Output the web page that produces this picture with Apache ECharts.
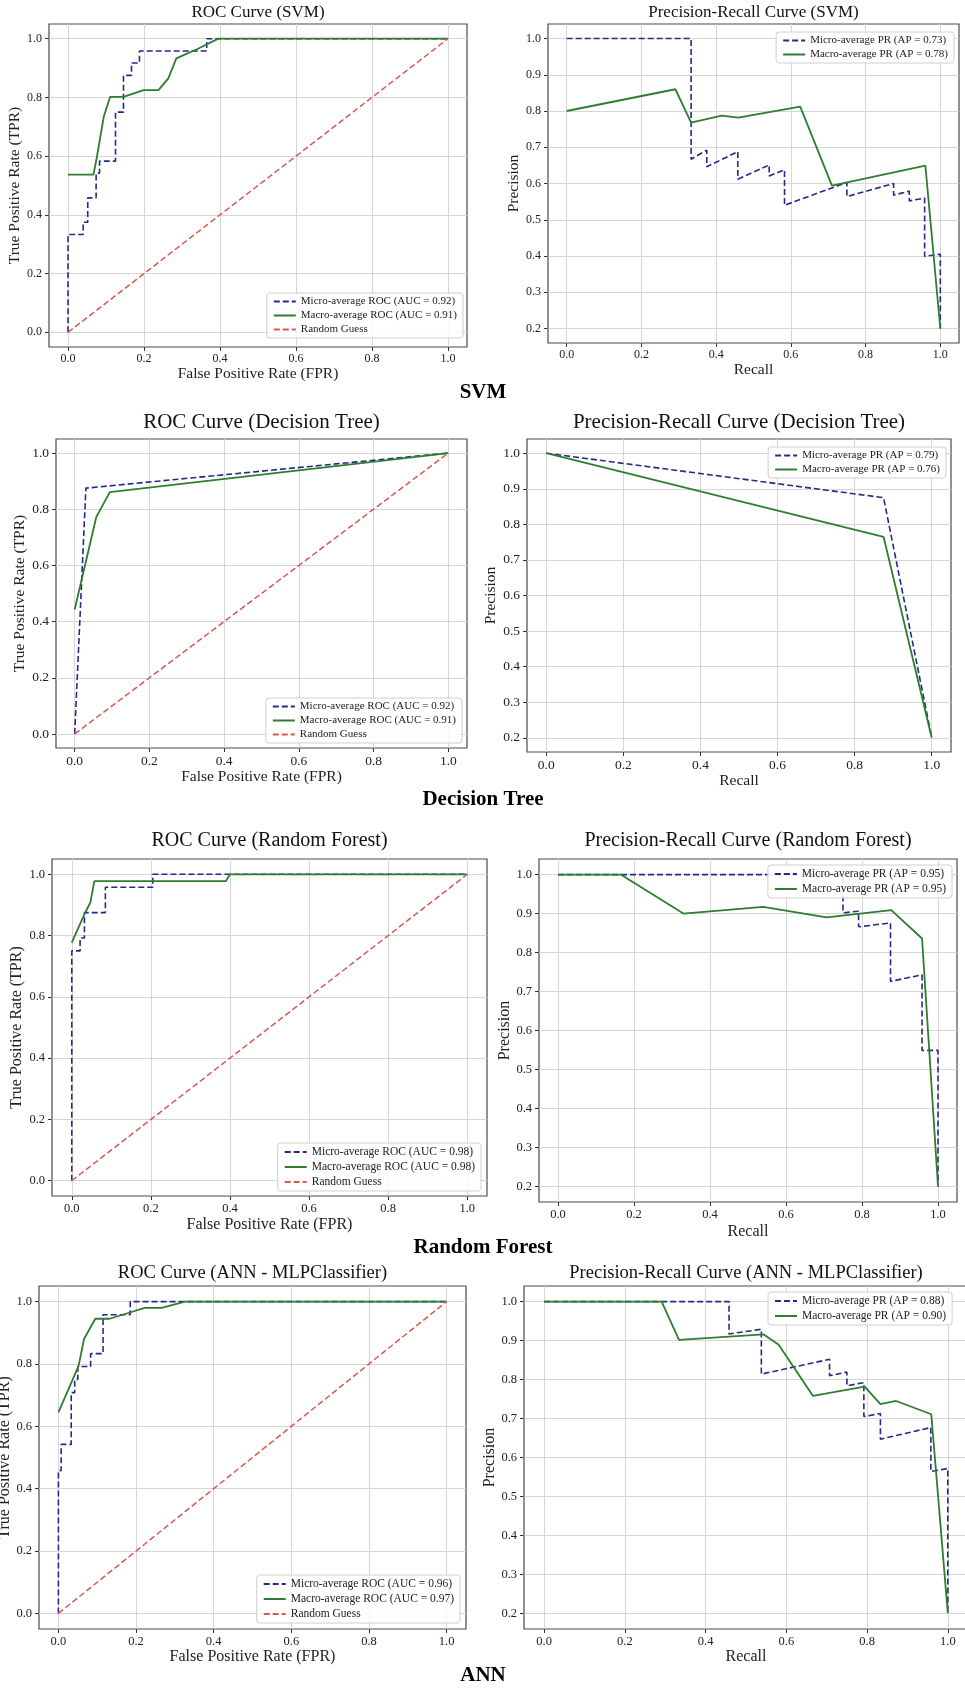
<!DOCTYPE html>
<html>
<head>
<meta charset="utf-8">
<script src="https://cdn.jsdelivr.net/npm/echarts@6/dist/echarts.min.js"></script>
<style>
  html, body { margin: 0; padding: 0; background: #fff; }
  #main { width: 965px; height: 1692px; }
</style>
</head>
<body>
<div id="main"></div>
<script>
// ---- data: [x, y] pairs ----
const randomGuess = [[0, 0], [1, 1]]

const svmRocMicro = [[0, 0], [0, 0.333], [0.04, 0.333], [0.04, 0.375], [0.052, 0.375], [0.052, 0.458], [0.074, 0.458], [0.074, 0.542], [0.083, 0.542], [0.083, 0.583], [0.125, 0.583], [0.125, 0.75], [0.146, 0.75], [0.146, 0.875], [0.167, 0.875], [0.167, 0.917], [0.188, 0.917], [0.188, 0.958], [0.365, 0.958], [0.365, 1], [1, 1]]
const svmRocMacro = [[0, 0.537], [0.067, 0.537], [0.076, 0.597], [0.094, 0.734], [0.111, 0.802], [0.146, 0.802], [0.199, 0.825], [0.238, 0.825], [0.264, 0.865], [0.285, 0.933], [0.339, 0.964], [0.396, 1], [1, 1]]
const svmPrMicro = [[0, 1], [0.333, 1], [0.333, 0.667], [0.375, 0.692], [0.375, 0.646], [0.458, 0.688], [0.458, 0.612], [0.542, 0.651], [0.542, 0.621], [0.583, 0.638], [0.583, 0.54], [0.75, 0.603], [0.75, 0.564], [0.875, 0.6], [0.875, 0.568], [0.917, 0.579], [0.917, 0.552], [0.958, 0.56], [0.958, 0.399], [1, 0.405], [1, 0.2]]
const svmPrMacro = [[0, 0.8], [0.291, 0.86], [0.333, 0.768], [0.415, 0.787], [0.459, 0.782], [0.625, 0.812], [0.71, 0.594], [0.96, 0.649], [1, 0.2]]

const dtRocMicro = [[0, 0], [0.03, 0.875], [1, 1]]
const dtRocMacro = [[0, 0.443], [0.058, 0.773], [0.094, 0.861], [1, 1]]
const dtPrMicro = [[0, 1], [0.875, 0.875], [1, 0.2]]
const dtPrMacro = [[0, 1], [0.875, 0.765], [1, 0.2]]

const rfRocMicro = [[0, 0], [0, 0.75], [0.021, 0.75], [0.021, 0.792], [0.032, 0.792], [0.032, 0.875], [0.085, 0.875], [0.085, 0.958], [0.205, 0.958], [0.205, 1], [1, 1]]
const rfRocMacro = [[0, 0.777], [0.032, 0.87], [0.047, 0.908], [0.057, 0.978], [0.39, 0.978], [0.4, 1], [1, 1]]
const rfPrMicro = [[0, 1], [0.75, 1], [0.75, 0.902], [0.791, 0.906], [0.791, 0.866], [0.875, 0.876], [0.875, 0.726], [0.958, 0.743], [0.958, 0.549], [1, 0.549], [1, 0.2]]
const rfPrMacro = [[0, 1], [0.165, 1], [0.33, 0.9], [0.54, 0.917], [0.707, 0.89], [0.877, 0.909], [0.958, 0.836], [1, 0.2]]

const annRocMicro = [[0, 0], [0, 0.458], [0.007, 0.458], [0.007, 0.542], [0.033, 0.542], [0.033, 0.708], [0.042, 0.708], [0.042, 0.75], [0.05, 0.75], [0.05, 0.792], [0.083, 0.792], [0.083, 0.833], [0.115, 0.833], [0.115, 0.958], [0.185, 0.958], [0.185, 1], [1, 1]]
const annRocMacro = [[0, 0.645], [0.052, 0.794], [0.066, 0.88], [0.095, 0.945], [0.132, 0.945], [0.184, 0.965], [0.222, 0.98], [0.266, 0.98], [0.326, 1], [1, 1]]
const annPrMicro = [[0, 1], [0.458, 1], [0.458, 0.917], [0.538, 0.929], [0.538, 0.814], [0.707, 0.852], [0.707, 0.81], [0.75, 0.819], [0.75, 0.784], [0.792, 0.792], [0.792, 0.705], [0.833, 0.713], [0.833, 0.647], [0.958, 0.677], [0.958, 0.564], [1, 0.572], [1, 0.2]]
const annPrMacro = [[0, 1], [0.291, 1], [0.334, 0.902], [0.543, 0.916], [0.581, 0.889], [0.666, 0.758], [0.794, 0.782], [0.833, 0.737], [0.872, 0.745], [0.959, 0.711], [1, 0.2]]

const unitTicks = [0, 0.2, 0.4, 0.6, 0.8, 1.0]
const precisionTicks = [0.2, 0.3, 0.4, 0.5, 0.6, 0.7, 0.8, 0.9, 1.0]
const rowLabels = ['SVM', 'Decision Tree', 'Random Forest', 'ANN']
const rocAuc = [[0.92, 0.91], [0.92, 0.91], [0.98, 0.98], [0.96, 0.97]]
const prAp = [[0.73, 0.78], [0.79, 0.76], [0.95, 0.95], [0.88, 0.90]]
const modelNames = ['SVM', 'Decision Tree', 'Random Forest', 'ANN - MLPClassifier']

// ---- layout / style ----
const FONT = "'Liberation Serif','Times New Roman',serif"
const MICRO = '#28288a', MACRO = '#2f7d2f', RANDOM = '#d65a50'

// per row: frame boxes [l, t, r, b], font sizes, title center y, row label y
const rows = [
    { roc: [49, 24, 467, 347], pr: [548, 24, 959, 343], title: 17, label: 15.5, tick: 12, legend: 11, titleY: 14, rowY: 395,
      rocLeg: { right: 502, top: 293 }, prLeg: { right: 11, top: 32 }, yGap: [24, 23], xGap: [19, 17] },
    { roc: [56, 439, 467, 748], pr: [527, 439, 951, 752], title: 21, label: 15.5, tick: 13.5, legend: 11, titleY: 425, rowY: 802,
      rocLeg: { right: 503, top: 698 }, prLeg: { right: 19, top: 447 }, yGap: [22, 26], xGap: [19, 18] },
    { roc: [52, 859, 487, 1196], pr: [539, 859, 957, 1202], title: 20, label: 16, tick: 12.5, legend: 11.5, titleY: 843, rowY: 1250,
      rocLeg: { right: 484, top: 1143 }, prLeg: { right: 13, top: 865 }, yGap: [27, 25], xGap: [21, 22] },
    { roc: [39, 1286, 466, 1629], pr: [524, 1286, 968, 1629], title: 18.5, label: 16, tick: 12.5, legend: 11.5, titleY: 1275, rowY: 1678,
      rocLeg: { right: 505, top: 1575 }, prLeg: { left: 768, top: 1292 }, yGap: [25, 25], xGap: [20, 20] }
]
const rocSeries = [[svmRocMicro, svmRocMacro], [dtRocMicro, dtRocMacro], [rfRocMicro, rfRocMacro], [annRocMicro, annRocMacro]]
const prSeries = [[svmPrMicro, svmPrMacro], [dtPrMicro, dtPrMacro], [rfPrMicro, rfPrMacro], [annPrMicro, annPrMacro]]

const grid = [], xAxis = [], yAxis = [], series = [], legend = [], title = []

function axisCommon(ticks, fs, name, gap) {
    return {
        type: 'value', name: name, nameLocation: 'middle', nameGap: gap,
        nameTextStyle: { fontFamily: FONT, fontSize: fs.label, color: '#222' },
        axisLine: { show: false, onZero: false },
        axisTick: { show: true, inside: false, length: 4, customValues: ticks, lineStyle: { color: '#333', width: 1 } },
        axisLabel: { customValues: ticks, margin: 6, fontFamily: FONT, fontSize: fs.tick, color: '#222', formatter: v => Number(v).toFixed(1) },
        splitLine: { show: true, lineStyle: { color: '#d6d6d6', width: 1 } }
    }
}

function addPanel(box, fs, kind, titleText, lines, names, legPos, yGap, xGap) {
    const i = grid.length
    grid.push({ left: box[0], top: box[1], width: box[2] - box[0], height: box[3] - box[1],
        show: true, borderColor: '#4a4a4a', borderWidth: 1.2, backgroundColor: '#fff', outerBoundsMode: 'none' })
    const xa = axisCommon(unitTicks, fs, kind === 'roc' ? 'False Positive Rate (FPR)' : 'Recall', xGap)
    xa.gridIndex = i; xa.min = -0.05; xa.max = 1.05
    xAxis.push(xa)
    const ya = axisCommon(kind === 'roc' ? unitTicks : precisionTicks, fs, kind === 'roc' ? 'True Positive Rate (TPR)' : 'Precision', yGap)
    ya.gridIndex = i
    ya.axisLabel.margin = 7
    if (kind === 'roc') { ya.min = -0.05; ya.max = 1.05 } else { ya.min = 0.16; ya.max = 1.04 }
    yAxis.push(ya)
    const styles = [
        { color: MICRO, type: [6, 3], width: 1.6 },
        { color: MACRO, type: 'solid', width: 1.8 },
        { color: RANDOM, type: [6, 3], width: 1.5 }
    ]
    lines.forEach((d, k) => {
        series.push({
            type: 'line', name: names[k], xAxisIndex: i, yAxisIndex: i, data: d,
            symbol: 'none', smooth: false, silent: true,
            lineStyle: styles[k], itemStyle: { color: styles[k].color }, z: 2 + k
        })
    })
    legend.push(Object.assign({
        orient: 'vertical', data: names, itemWidth: 22, itemHeight: 10, itemGap: 3,
        padding: [3, 6, 3, 6], backgroundColor: 'rgba(255,255,255,0.85)', borderColor: '#cfcfcf',
        borderWidth: 1, borderRadius: 3, selectedMode: false,
        itemStyle: { opacity: 0 },
        textStyle: { fontFamily: FONT, fontSize: fs.legend, color: '#222' }
    }, legPos))
    title.push({ text: titleText, left: (box[0] + box[2]) / 2, top: fs.titleY - fs.title * 0.6, textAlign: 'center', padding: 0,
        textStyle: { fontFamily: FONT, fontSize: fs.title, fontWeight: 'normal', color: '#111' } })
}

rows.forEach((r, n) => {
    const rocNames = ['Micro-average ROC (AUC = ' + rocAuc[n][0].toFixed(2) + ')',
                      'Macro-average ROC (AUC = ' + rocAuc[n][1].toFixed(2) + ')', 'Random Guess']
    addPanel(r.roc, r, 'roc', 'ROC Curve (' + modelNames[n] + ')',
        [rocSeries[n][0], rocSeries[n][1], randomGuess], rocNames, r.rocLeg, r.yGap[0], r.xGap[0])
    const prNames = ['Micro-average PR (AP = ' + prAp[n][0].toFixed(2) + ')',
                     'Macro-average PR (AP = ' + prAp[n][1].toFixed(2) + ')']
    addPanel(r.pr, r, 'pr', 'Precision-Recall Curve (' + modelNames[n] + ')',
        [prSeries[n][0], prSeries[n][1]], prNames, r.prLeg, r.yGap[1], r.xGap[1])
    title.push({ text: rowLabels[n], left: 483, top: r.rowY - 12.5, textAlign: 'center', padding: 0,
        textStyle: { fontFamily: FONT, fontSize: 21, fontWeight: 'bold', color: '#000' } })
})

const chart = echarts.init(document.getElementById('main'))
chart.setOption({
    animation: false,
    backgroundColor: '#fff',
    title: title,
    legend: legend,
    grid: grid,
    xAxis: xAxis,
    yAxis: yAxis,
    series: series
})
</script>
</body>
</html>
